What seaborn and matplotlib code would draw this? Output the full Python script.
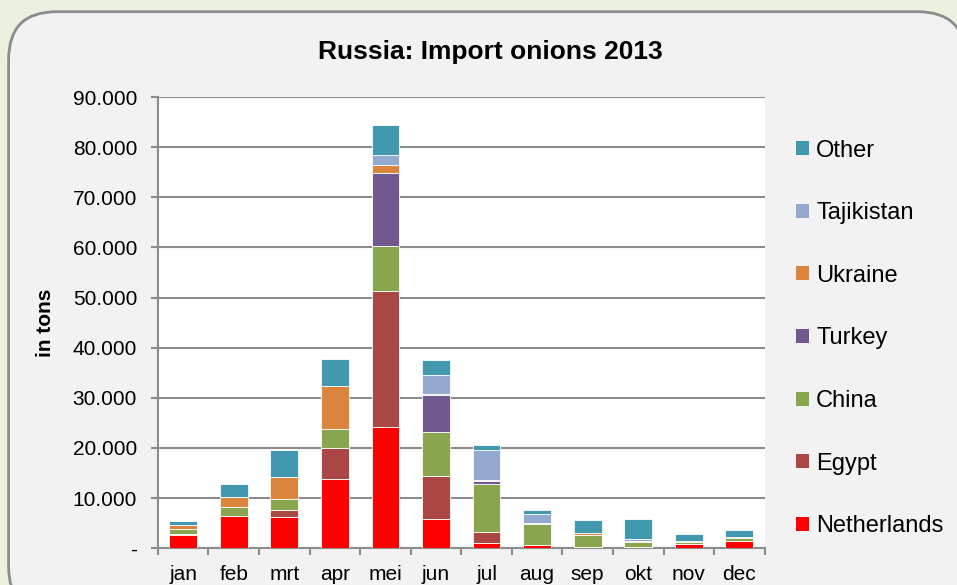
import matplotlib
matplotlib.use("Agg")
import matplotlib.pyplot as plt
import seaborn as sb
import pandas as pd
from matplotlib.patches import FancyBboxPatch, Patch
from matplotlib.ticker import FuncFormatter, FixedLocator

# data (tons per month)
months = ['jan', 'feb', 'mrt', 'apr', 'mei', 'jun', 'jul', 'aug', 'sep', 'okt', 'nov', 'dec']
netherlands = [2700, 6500, 6300, 13700, 24200, 5800, 1000, 700, 300, 300, 900, 1500]
egypt = [100, 0, 1400, 6300, 27200, 8500, 2300, 0, 0, 0, 0, 0]
china = [1100, 1800, 2100, 3800, 8900, 8900, 9500, 4100, 2400, 900, 400, 500]
turkey = [0, 0, 0, 0, 14600, 7300, 500, 0, 0, 0, 0, 0]
ukraine = [700, 1900, 4300, 8500, 1500, 200, 200, 200, 300, 200, 150, 200]
tajikistan = [0, 0, 0, 0, 2000, 3800, 6100, 1900, 100, 500, 0, 0]
other = [900, 2600, 5400, 5500, 6000, 3100, 900, 700, 2600, 4000, 1300, 1500]

series = ['Netherlands', 'Egypt', 'China', 'Turkey', 'Ukraine', 'Tajikistan', 'Other']
values = [netherlands, egypt, china, turkey, ukraine, tajikistan, other]
colors = ['#FF0000', '#AA4643', '#89A54E', '#71588F', '#DB843D', '#93A9CF', '#4198AF']

plt.rcParams['font.family'] = ['Liberation Sans', 'DejaVu Sans']

fig = plt.figure(figsize=(9.57, 5.85), dpi=100)
fig.patch.set_facecolor('#EAF1DE')
box = FancyBboxPatch((0.009, -0.05), 1.0, 1.03, boxstyle="round,pad=0,rounding_size=0.05",
                     mutation_aspect=957 / 585, transform=fig.transFigure,
                     facecolor='#F2F2F2', edgecolor='#8c8c8c', linewidth=2, zorder=-5)
fig.patches.append(box)

ax = fig.add_axes([0.165, 0.063, 0.634, 0.771])
ax.set_zorder(2)
ax.set_facecolor('white')

bottom = [0] * len(months)
for name, vals, col in zip(series, values, colors):
    df = pd.DataFrame({'month': months, 'tons': vals})
    sb.barplot(x='month', y='tons', data=df, ax=ax, color=col, width=0.55, saturation=1,
               bottom=bottom, edgecolor='#ffffff', linewidth=0.6, zorder=3)
    bottom = [b + v for b, v in zip(bottom, vals)]

ax.set_ylim(0, 90000)
ax.set_xlim(-0.5, 11.5)
ax.set_yticks(range(0, 90001, 10000))
ax.yaxis.set_major_formatter(FuncFormatter(
    lambda v, p: '-' if v == 0 else '{:,.0f}'.format(v).replace(',', '.')))
ax.grid(axis='y', color='#8c8c8c', linewidth=1.5, zorder=1)
ax.set_axisbelow(True)
for s in ['top', 'right']:
    ax.spines[s].set_visible(False)
for s in ['left', 'bottom']:
    ax.spines[s].set_color('#8c8c8c')
    ax.spines[s].set_linewidth(1.5)
ax.tick_params(axis='y', length=5, color='#8c8c8c', width=1.5, labelsize=15, pad=10)
ax.tick_params(axis='x', which='major', length=0, labelsize=15, pad=12)
ax.xaxis.set_minor_locator(FixedLocator([i + 0.5 for i in range(-1, 12)]))
ax.tick_params(axis='x', which='minor', length=5, color='#8c8c8c', width=1.5)
ax.set_xlabel('')
ax.set_ylabel('in tons', fontsize=15, fontweight='bold', labelpad=13)

fig.text(0.512, 0.911, 'Russia: Import onions 2013', ha='center', va='center',
         fontsize=19, fontweight='bold')

handles = [Patch(facecolor=c, edgecolor='none') for c in colors][::-1]
fig.legend(handles, series[::-1], loc='center left', bbox_to_anchor=(0.832, 0.4215),
           frameon=False, fontsize=17, labelspacing=1.72, handlelength=0.54,
           handleheight=0.54, handletextpad=0.3, borderaxespad=0, borderpad=0)

fig.savefig('out.png', dpi=100, facecolor=fig.get_facecolor())
